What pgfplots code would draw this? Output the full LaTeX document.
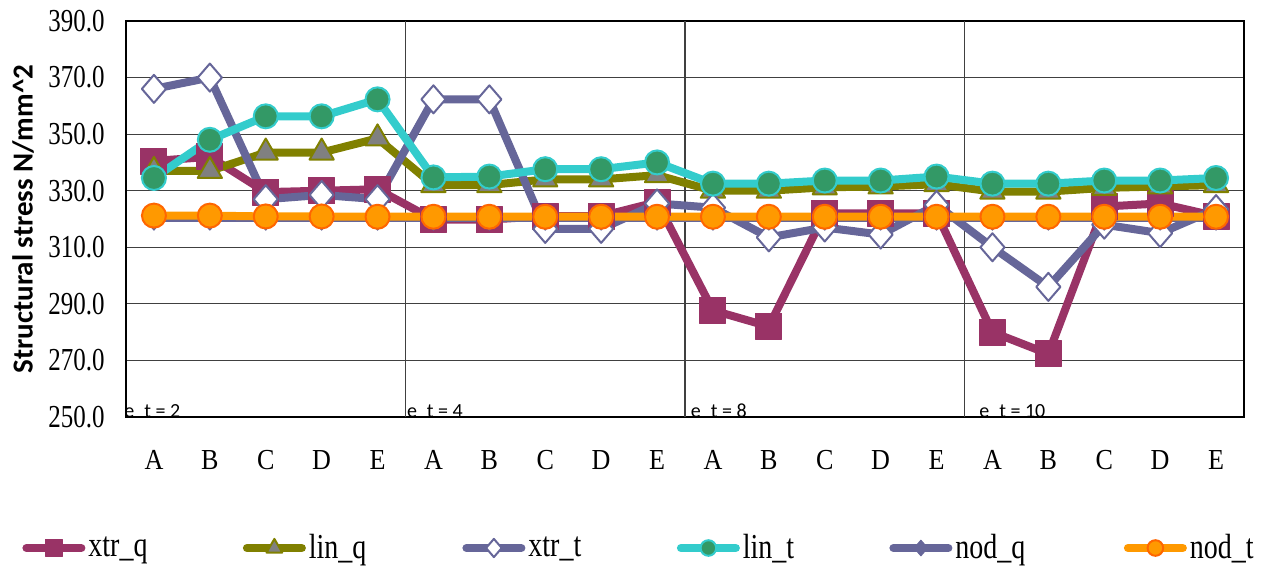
\documentclass[border=0pt]{standalone}
\usepackage{fontspec}
\setmainfont{Liberation Serif}
\newfontfamily\carlito{Carlito}
\newfontfamily\ytickfont[FakeStretch=0.78]{Liberation Serif}
\newfontfamily\xtickfont[FakeStretch=0.9]{Liberation Serif}
\newfontfamily\legfont[FakeStretch=0.8]{Liberation Serif}
\usepackage{graphicx}
\usepackage{pgfplots}
\pgfplotsset{compat=1.18}
\usepackage{pgfplotstable}
\definecolor{cq}{HTML}{993366}
\definecolor{cliq}{HTML}{808000}
\definecolor{cgray}{HTML}{808080}
\definecolor{cxt}{HTML}{666699}
\definecolor{ccyan}{HTML}{33CCCC}
\definecolor{cgreen}{HTML}{339966}
\definecolor{corange}{HTML}{FF9900}
\definecolor{cordark}{HTML}{FF6600}

\pgfplotstableread{
x xtrq linq xtrt lint nodq nodt
0  340.5 337.0 366.0 334.5 320.3 321.2
1  342.0 337.0 370.0 348.0 320.3 321.2
2  329.5 343.5 327.0 356.3 320.3 320.9
3  330.0 343.5 328.5 356.3 320.3 320.9
4  330.5 348.5 327.0 362.3 320.3 320.8
5  319.8 332.0 362.3 334.7 320.3 320.8
6  319.8 332.0 362.3 335.0 320.3 320.8
7  321.0 334.0 316.5 337.6 320.3 320.8
8  321.0 334.0 316.5 337.6 320.3 320.8
9  326.0 335.5 325.5 340.0 320.3 320.8
10 287.7 330.0 324.0 332.5 320.3 320.8
11 282.0 330.0 313.5 332.5 320.3 320.8
12 322.0 331.2 317.0 333.6 320.3 320.8
13 322.0 331.5 314.5 333.6 320.3 320.8
14 322.0 332.3 325.0 335.0 320.3 320.8
15 280.0 329.7 310.0 332.5 320.3 320.8
16 272.3 329.7 296.0 332.5 320.3 320.8
17 324.4 331.0 318.0 333.6 320.3 320.8
18 325.5 331.5 315.0 333.6 320.3 320.8
19 321.0 332.0 323.5 334.5 320.3 320.8
}\datatable

\begin{document}
\begin{tikzpicture}
\begin{axis}[
  scale only axis, width=559bp, height=198bp,
  xmin=-0.5, xmax=19.5, ymin=250, ymax=390,
  xtick={0,...,19},
  xticklabels={A,B,C,D,E,A,B,C,D,E,A,B,C,D,E,A,B,C,D,E},
  ytick={250,270,...,390},
  yticklabel style={/pgf/number format/fixed, /pgf/number format/fixed zerofill,
    /pgf/number format/precision=1, /pgf/number format/assume math mode=true,
    inner sep=0pt, xshift=-10.5bp, font=\ytickfont\fontsize{16bp}{18bp}\selectfont},
  xticklabel style={inner sep=0pt, yshift=-16.5bp,
    font=\xtickfont\fontsize{14.5bp}{16bp}\selectfont},
  major tick length=0pt,
  ymajorgrids,
  grid style={black!75, line width=0.6bp},
  extra x ticks={4.5,9.5,14.5},
  extra x tick labels={},
  extra x tick style={grid=major, major tick length=0pt},
  axis line style={black, line width=0.6bp},
  ylabel={\carlito\bfseries Structural stress N/mm\^{}2},
  ylabel style={at={(rel axis cs:0,0.5)}, anchor=center, yshift=51.5bp,
    font=\fontsize{14.5bp}{16bp}\selectfont},
  legend columns=6,
  legend style={draw=none, fill=none, at={(rel axis cs:0,0)}, anchor=west,
    xshift=-52bp, yshift=-65.5bp, column sep=0pt, inner sep=0pt,
    nodes={inner sep=0pt},
    font=\legfont\fontsize{17.5bp}{19bp}\selectfont},
  legend image code/.code={
    \draw[mark repeat=2,mark phase=2,#1,every mark/.append style={scale=0.65}]
      plot coordinates {(0bp,0bp) (13.75bp,0bp) (27.5bp,0bp)};
  },
  every axis plot/.append style={line width=4bp, line join=round, line cap=round},
]
\addplot[color=cq, mark=square*, mark size=6.5bp,
  mark options={fill=cq, draw=cq, line width=0.5bp}] table[x=x,y=xtrq] {\datatable};
\addlegendentry{\makebox[78.75bp][l]{\hspace{1.5bp}xtr\_q}}
\addplot[color=cliq, mark=triangle*, mark size=7bp,
  mark options={fill=cgray, draw=cliq, line width=1bp}] table[x=x,y=linq] {\datatable};
\addlegendentry{\makebox[78.25bp][l]{\hspace{1.5bp}lin\_q}}
\addplot[color=cxt, mark=diamond*, mark size=7bp,
  mark options={fill=white, draw=cxt, line width=1bp, xscale=1.15}] table[x=x,y=xtrt] {\datatable};
\addlegendentry{\makebox[75.75bp][l]{\hspace{1.5bp}xtr\_t}}
\addplot[color=ccyan, mark=*, mark size=6bp,
  mark options={fill=cgreen, draw=ccyan, line width=1bp}] table[x=x,y=lint] {\datatable};
\addlegendentry{\makebox[74.75bp][l]{\hspace{1.5bp}lin\_t}}
\addplot[color=cxt, mark=diamond*, mark size=6bp,
  mark options={fill=cxt, draw=cxt, line width=0.5bp, xscale=1.15}] table[x=x,y=nodq] {\datatable};
\addlegendentry{\makebox[85.75bp][l]{\hspace{1.5bp}nod\_q}}
\addplot[color=corange, mark=*, mark size=6bp,
  mark options={fill=corange, draw=cordark, line width=1bp}] table[x=x,y=nodt] {\datatable};
\addlegendentry{\makebox[36bp][l]{\hspace{1.5bp}nod\_t}}

\node[anchor=base west, inner sep=0pt, font=\carlito\fontsize{10bp}{12bp}\selectfont]
  at (axis cs:-0.536,250) {e\_t = 2};
\node[anchor=base west, inner sep=0pt, font=\carlito\fontsize{10bp}{12bp}\selectfont]
  at (axis cs:4.52,250) {e\_t = 4};
\node[anchor=base west, inner sep=0pt, font=\carlito\fontsize{10bp}{12bp}\selectfont]
  at (axis cs:9.6,250) {e\_t = 8};
\node[anchor=base west, inner sep=0pt, font=\carlito\fontsize{10bp}{12bp}\selectfont]
  at (axis cs:14.76,250) {e\_t = 10};
\end{axis}
\pgfresetboundingbox
\path (current axis.south west) ++(-63bp,-78.5bp) rectangle ++(634bp,287bp);
\end{tikzpicture}
\end{document}
